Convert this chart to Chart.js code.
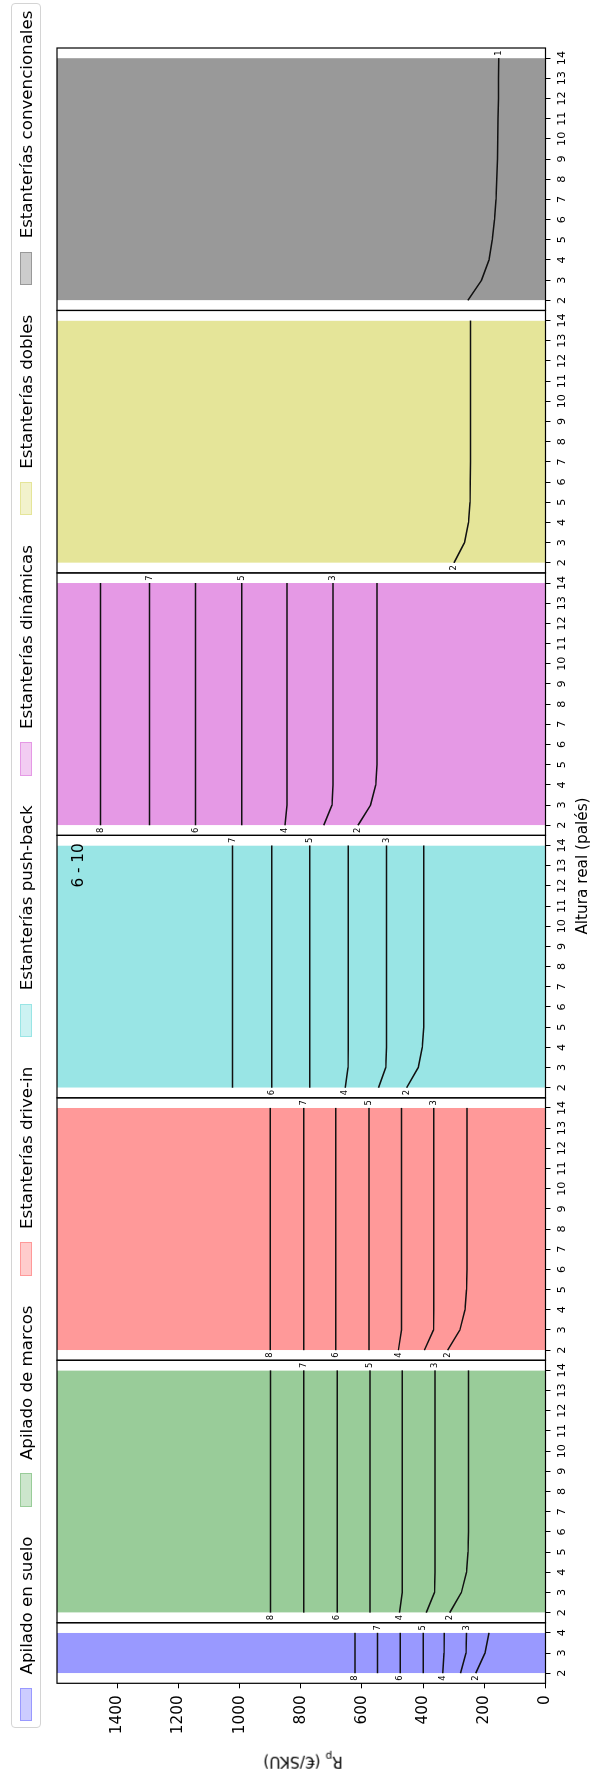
<!DOCTYPE html>
<html>
<head>
<meta charset="utf-8">
<script src="https://cdn.jsdelivr.net/npm/chart.js@4.4.1/dist/chart.umd.min.js"></script>
<style>
  html, body { margin: 0; padding: 0; background: #fff; }
  body { width: 594px; height: 1776px; overflow: hidden; position: relative; }
  /* The figure is laid out landscape and turned a quarter turn counter-clockwise */
  #fig {
    position: absolute; left: 0; top: 0; width: 1776px; height: 594px;
    transform-origin: 0 0; transform: translate(0px, 1776px) rotate(-90deg);
    font-family: "DejaVu Sans", sans-serif; color: #000; background: #fff;
  }
  #fig canvas { position: absolute; left: 0; top: 0; }
  .legend {
    position: absolute; left: 48px; top: 11px; width: 1725px; height: 30px;
    box-sizing: border-box; border: 1px solid #d4d4d4; border-radius: 4px;
    background: rgba(255,255,255,0.8);
    display: flex; justify-content: space-between; align-items: center;
    padding: 0 6.5px 0 6px;
  }
  .item { display: flex; align-items: center; font-size: 16.67px; white-space: nowrap; }
  .sw { width: 33.3px; height: 11.7px; margin-right: 13.3px; box-sizing: border-box; border: 1px solid; }
  .title { position: absolute; white-space: nowrap; font-size: 15.28px; line-height: 1; }
</style>
</head>
<body>
<div id="fig">
  <div class="legend" id="legend"></div>
  <div class="title" id="ytitle" style="left:16px; top:303px; transform: translate(-50%,-50%) rotate(-90deg);">R<sub style="font-size:10.5px">p</sub> (€/SKU)</div>
  <div class="title" id="xtitle" style="left:910px; top:583px; transform: translate(-50%,-50%);">Altura real (palés)</div>
</div>
<script>
// ---- data -------------------------------------------------------------
const alturas = [2, 3, 4, 5, 6, 7, 8, 9, 10, 11, 12, 13, 14];
const alturasSuelo = [2, 3, 4];
const rpTicks = [0, 200, 400, 600, 800, 1000, 1200, 1400];

const sistemas = [
  'Apilado en suelo', 'Apilado de marcos', 'Estanterías drive-in',
  'Estanterías push-back', 'Estanterías dinámicas', 'Estanterías dobles',
  'Estanterías convencionales'
];

const nivelesSuelo = [2, 3, 4, 5, 6, 7, 8];
const rpSuelo = [
  [228, 198, 185],
  [278, 260, 258],
  [336, 332, 331],
  [400, 400, 400],
  [475, 475, 475],
  [549, 549, 549],
  [623, 623, 623]
];

const nivelesMarcos = [2, 3, 4, 5, 6, 7, 8];
const rpMarcos = [
  [313, 275, 258, 253, 252, 252, 252, 252, 252, 252, 252, 252, 252],
  [390, 363, 361, 361, 361, 361, 361, 361, 361, 361, 361, 361, 361],
  [477, 468, 468, 468, 468, 468, 468, 468, 468, 468, 468, 468, 468],
  [574, 574, 574, 574, 574, 574, 574, 574, 574, 574, 574, 574, 574],
  [681, 681, 681, 681, 681, 681, 681, 681, 681, 681, 681, 681, 681],
  [790, 790, 790, 790, 790, 790, 790, 790, 790, 790, 790, 790, 790],
  [899, 899, 899, 899, 899, 899, 899, 899, 899, 899, 899, 899, 899]
];

const nivelesDriveIn = [2, 3, 4, 5, 6, 7, 8];
const rpDriveIn = [
  [320, 280, 263, 258, 257, 257, 257, 257, 257, 257, 257, 257, 257],
  [396, 366, 365, 365, 365, 365, 365, 365, 365, 365, 365, 365, 365],
  [481, 471, 471, 471, 471, 471, 471, 471, 471, 471, 471, 471, 471],
  [577, 577, 577, 577, 577, 577, 577, 577, 577, 577, 577, 577, 577],
  [686, 686, 686, 686, 686, 686, 686, 686, 686, 686, 686, 686, 686],
  [790, 790, 790, 790, 790, 790, 790, 790, 790, 790, 790, 790, 790],
  [900, 900, 900, 900, 900, 900, 900, 900, 900, 900, 900, 900, 900]
];

const nivelesPushBack = [2, 3, 4, 5, 6, 7];
const rpPushBack = [
  [454, 416, 403, 398, 398, 398, 398, 398, 398, 398, 398, 398, 398],
  [546, 522, 520, 520, 520, 520, 520, 520, 520, 520, 520, 520, 520],
  [655, 646, 645, 645, 645, 645, 645, 645, 645, 645, 645, 645, 645],
  [771, 771, 771, 771, 771, 771, 771, 771, 771, 771, 771, 771, 771],
  [895, 895, 895, 895, 895, 895, 895, 895, 895, 895, 895, 895, 895],
  [1023, 1023, 1023, 1023, 1023, 1023, 1023, 1023, 1023, 1023, 1023, 1023, 1023]
];

const nivelesDinamicas = [2, 3, 4, 5, 6, 7, 8];
const rpDinamicas = [
  [613, 572, 555, 551, 551, 551, 551, 551, 551, 551, 551, 551, 551],
  [725, 698, 695, 695, 695, 695, 695, 695, 695, 695, 695, 695, 695],
  [852, 845, 845, 845, 845, 845, 845, 845, 845, 845, 845, 845, 845],
  [993, 993, 993, 993, 993, 993, 993, 993, 993, 993, 993, 993, 993],
  [1144, 1144, 1144, 1144, 1144, 1144, 1144, 1144, 1144, 1144, 1144, 1144, 1144],
  [1295, 1295, 1295, 1295, 1295, 1295, 1295, 1295, 1295, 1295, 1295, 1295, 1295],
  [1455, 1455, 1455, 1455, 1455, 1455, 1455, 1455, 1455, 1455, 1455, 1455, 1455]
];

const nivelesDobles = [2];
const rpDobles = [
  [299, 265, 252, 247, 246, 245, 245, 245, 245, 245, 245, 245, 245]
];

const nivelesConvencionales = [1];
const rpConvencionales = [
  [254, 209, 185, 174, 167, 162, 159, 157, 156, 155, 154, 154, 153]
];

const colores = ['#0000ff', '#008000', '#ff0000', '#00bfbf', '#bf00bf', '#bfbf00', '#000000'];
const notaPushBack = '6 - 10';

// ---- layout (landscape figure coordinates) ------------------------------
const FIG_W = 1776, FIG_H = 594;
const PLOT_LEFT = 92.7, PLOT_RIGHT = 1728;
const PLOT_TOP = 57, PLOT_BOTTOM = 545.5;
const Y_MAX = 1597;
const Y_AXIS_W = 60;
const FONT = "'DejaVu Sans', sans-serif";

function rgba(hex, a) {
  const n = parseInt(hex.slice(1), 16);
  return `rgba(${(n >> 16) & 255},${(n >> 8) & 255},${n & 255},${a})`;
}

// legend
const legendEl = document.getElementById('legend');
sistemas.forEach((name, i) => {
  const it = document.createElement('div');
  it.className = 'item';
  const sw = document.createElement('span');
  sw.className = 'sw';
  sw.style.background = rgba(colores[i], 0.2);
  sw.style.borderColor = rgba(colores[i], 0.25);
  it.appendChild(sw);
  const t = document.createElement('span');
  t.textContent = name;
  it.appendChild(t);
  legendEl.appendChild(it);
});

Chart.defaults.font.family = FONT;
Chart.defaults.color = '#000';

const panelDecor = {
  id: 'panelDecor',
  afterDatasetsDraw(chart, args, opts) {
    const { ctx, chartArea: a, scales } = chart;
    const x = scales.x, y = scales.y;
    ctx.save();
    ctx.font = `8.3px ${FONT}`;
    ctx.fillStyle = '#000';
    ctx.textAlign = 'center';
    ctx.textBaseline = 'middle';
    opts.levels.forEach((lv, i) => {
      const vals = opts.values[i];
      const atStart = lv % 2 === 0;
      const j = atStart ? 0 : vals.length - 1;
      const px = x.getPixelForValue(opts.xs[j]) + (atStart ? -5 : 5);
      const py = y.getPixelForValue(vals[j]);
      ctx.fillText(String(lv), px, py);
    });
    if (opts.note) {
      ctx.font = `15.28px ${FONT}`;
      ctx.textAlign = 'right';
      ctx.fillText(opts.note, a.left + 0.97 * (a.right - a.left), a.top + 0.045 * (a.bottom - a.top));
    }
    ctx.strokeStyle = '#000';
    ctx.lineWidth = 1.2;
    ctx.strokeRect(a.left, a.top, a.right - a.left, a.bottom - a.top);
    ctx.restore();
  }
};

const paneles = [
  { xs: alturasSuelo, niveles: nivelesSuelo, valores: rpSuelo },
  { xs: alturas, niveles: nivelesMarcos, valores: rpMarcos },
  { xs: alturas, niveles: nivelesDriveIn, valores: rpDriveIn },
  { xs: alturas, niveles: nivelesPushBack, valores: rpPushBack, nota: notaPushBack },
  { xs: alturas, niveles: nivelesDinamicas, valores: rpDinamicas },
  { xs: alturas, niveles: nivelesDobles, valores: rpDobles },
  { xs: alturas, niveles: nivelesConvencionales, valores: rpConvencionales }
];

// panel widths follow their x spans (each axis is padded half a step on both sides)
const spans = paneles.map(p => p.xs[p.xs.length - 1] - p.xs[0] + 1);
const totalSpan = spans.reduce((s, v) => s + v, 0);
const unit = (PLOT_RIGHT - PLOT_LEFT) / totalSpan;

const fig = document.getElementById('fig');
let offset = 0;
paneles.forEach((p, k) => {
  const left = PLOT_LEFT + offset * unit;
  const right = left + spans[k] * unit;
  offset += spans[k];
  const showY = k === 0;

  const canvas = document.createElement('canvas');
  canvas.width = FIG_W; canvas.height = FIG_H;
  canvas.style.width = FIG_W + 'px'; canvas.style.height = FIG_H + 'px';
  fig.insertBefore(canvas, legendEl);

  const x0 = p.xs[0], x1 = p.xs[p.xs.length - 1];
  const datasets = [{
    data: [{ x: x0, y: Y_MAX }, { x: x1, y: Y_MAX }],
    fill: 'origin',
    backgroundColor: rgba(colores[k], 0.4),
    borderColor: 'rgba(0,0,0,0)',
    borderWidth: 0,
    pointRadius: 0,
    order: 10
  }];
  p.niveles.forEach((lv, i) => {
    datasets.push({
      label: String(lv),
      data: p.xs.map((xv, j) => ({ x: xv, y: p.valores[i][j] })),
      borderColor: '#111',
      borderWidth: 1.5,
      pointRadius: 0,
      fill: false,
      tension: 0,
      order: 1
    });
  });

  new Chart(canvas, {
    type: 'line',
    data: { datasets },
    options: {
      responsive: false,
      animation: false,
      devicePixelRatio: 1,
      events: [],
      layout: {
        padding: {
          left: showY ? left - Y_AXIS_W : left,
          right: FIG_W - right,
          top: PLOT_TOP,
          bottom: 0
        }
      },
      plugins: {
        legend: { display: false },
        tooltip: { enabled: false },
        panelDecor: { xs: p.xs, levels: p.niveles, values: p.valores, note: p.nota || null }
      },
      scales: {
        x: {
          type: 'linear',
          min: x0 - 0.5,
          max: x1 + 0.5,
          afterBuildTicks: s => { s.ticks = p.xs.map(v => ({ value: v })); },
          afterFit: s => { s.height = FIG_H - PLOT_BOTTOM; },
          ticks: { font: { size: 11.1 }, color: '#000', padding: 5, maxRotation: 0, autoSkip: false,
                   callback: v => String(v) },
          grid: { drawOnChartArea: false, drawTicks: true, tickLength: 5, color: '#000', lineWidth: 1 },
          border: { display: false }
        },
        y: {
          display: showY,
          min: 0,
          max: Y_MAX,
          afterBuildTicks: s => { s.ticks = rpTicks.map(v => ({ value: v })); },
          afterFit: s => { s.width = showY ? Y_AXIS_W : 0; },
          ticks: { font: { size: 15.28 }, color: '#000', padding: 7, callback: v => String(v) },
          grid: { drawOnChartArea: false, drawTicks: true, tickLength: 5, color: '#000', lineWidth: 1 },
          border: { display: false }
        }
      }
    },
    plugins: [panelDecor]
  });
});
</script>
</body>
</html>
